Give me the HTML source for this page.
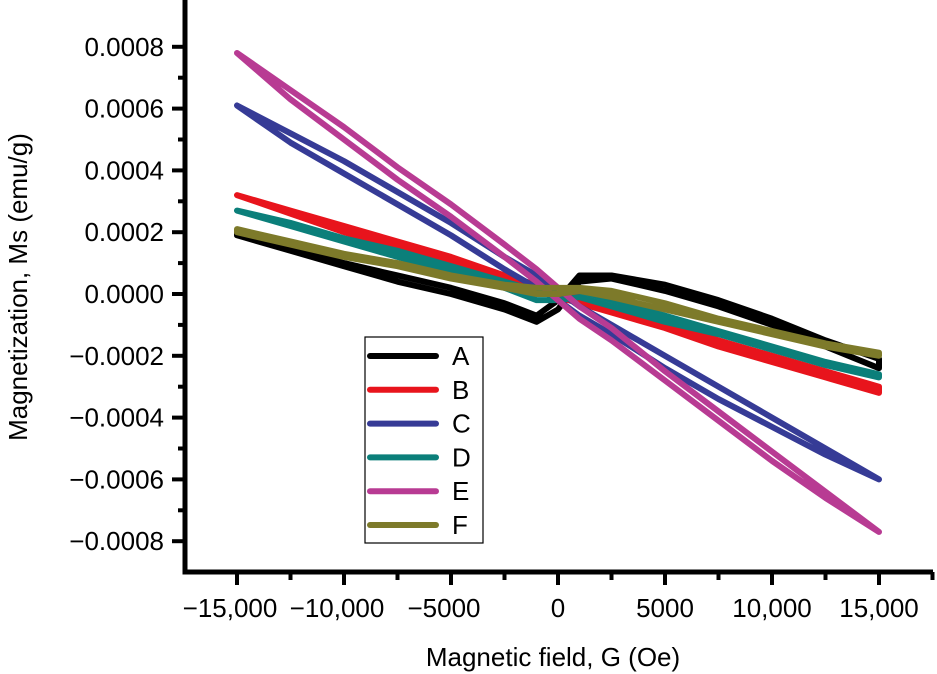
<!DOCTYPE html>
<html><head><meta charset="utf-8"><style>
body{margin:0;background:#fff;}
svg{display:block;font-family:"Liberation Sans",Arial,sans-serif;}
</style></head><body>
<svg id="chart" width="937" height="674"></svg>
<script>
const fields=[-15000,-12500,-10000,-7500,-5000,-2500,-1000,0,1000,2500,5000,7500,10000,12500,15000];
const seriesNames=["A","B","C","D","E","F"];
const seriesColors=["#000000","#e8141c","#363b96","#0b7f7a","#b83b93","#7d7a2a"];
const upA=[0.00020,0.00015,0.00010,0.00006,0.00002,-0.00003,-0.00007,-0.00002,0.00006,0.00006,0.00003,-0.00002,-0.00008,-0.00015,-0.00021];
const loA=[0.00019,0.00014,0.00009,0.00004,0.00000,-0.00005,-0.00009,-0.00005,0.00004,0.00005,0.00001,-0.00004,-0.00010,-0.00017,-0.00024];
const upB=[0.00032,0.00027,0.00022,0.00017,0.00012,0.00006,0.00003,0.00002,-0.00001,-0.00004,-0.00009,-0.00015,-0.00020,-0.00025,-0.00030];
const loB=[0.00032,0.00026,0.00020,0.00015,0.00010,0.00004,0.00001,-0.00001,-0.00003,-0.00006,-0.00011,-0.00017,-0.00022,-0.00027,-0.00032];
const upC=[0.00061,0.00052,0.00043,0.00033,0.00023,0.00012,0.00006,0.00001,-0.00004,-0.00010,-0.00020,-0.00030,-0.00040,-0.00050,-0.00060];
const loC=[0.00061,0.00049,0.00039,0.00029,0.00019,0.00008,0.00002,-0.00002,-0.00007,-0.00013,-0.00024,-0.00034,-0.00043,-0.00052,-0.00060];
const upD=[0.00027,0.00023,0.00018,0.00014,0.00009,0.00004,0.00001,0.00001,0.00001,-0.00002,-0.00007,-0.00012,-0.00017,-0.00022,-0.00026];
const loD=[0.00027,0.00022,0.00017,0.00012,0.00007,0.00002,-0.00002,-0.00002,-0.00001,-0.00004,-0.00009,-0.00013,-0.00018,-0.00023,-0.00027];
const upE=[0.00078,0.00066,0.00054,0.00041,0.00029,0.00016,0.00008,0.00002,-0.00004,-0.00011,-0.00025,-0.00038,-0.00051,-0.00064,-0.00077];
const loE=[0.00078,0.00063,0.00050,0.00037,0.00025,0.00012,0.00004,-0.00002,-0.00008,-0.00015,-0.00028,-0.00041,-0.00054,-0.00066,-0.00077];
const upF=[0.00021,0.00017,0.00013,0.00010,0.00006,0.00003,0.00002,0.00002,0.00002,0.00001,-0.00003,-0.00008,-0.00012,-0.00016,-0.00019];
const loF=[0.00020,0.00016,0.00012,0.00009,0.00005,0.00002,0.00000,0.00000,0.00001,-0.00001,-0.00005,-0.00009,-0.00013,-0.00017,-0.00020];
const xTicks=[-15000,-10000,-5000,0,5000,10000,15000];
const xTickLabels=["\u221215,000","\u221210,000","\u22125000","0","5000","10,000","15,000"];
const yTicks=[0.0008,0.0006,0.0004,0.0002,0,-0.0002,-0.0004,-0.0006,-0.0008];
const yTickLabels=["0.0008","0.0006","0.0004","0.0002","0.0000","\u22120.0002","\u22120.0004","\u22120.0006","\u22120.0008"];

const ups=[upA,upB,upC,upD,upE,upF], los=[loA,loB,loC,loD,loE,loF];
const X=v=>558+v*107/5000;
const Y=v=>294-v*61.8/0.0002;
const NS="http://www.w3.org/2000/svg";
const svg=document.getElementById('chart');
function mk(t,a,p){const e=document.createElementNS(NS,t);for(const k in a)e.setAttribute(k,a[k]);(p||svg).appendChild(e);return e;}

seriesNames.forEach((n,i)=>{
  let d="M"+fields.map((f,j)=>X(f)+","+Y(ups[i][j])).join(" L");
  d+=" L"+fields.slice().reverse().map((f,j)=>X(f)+","+Y(los[i][fields.length-1-j])).join(" L")+" Z";
  const p=mk('path',{d:d,fill:'none',stroke:seriesColors[i],'stroke-width':6,'stroke-linejoin':'round'});
  
  
});

const ax=mk('path',{d:"M185,0 L185,572 L933,572",fill:'none',stroke:'#000','stroke-width':5});


for(let v=-15000;v<=17500;v+=2500){
  const major=v%5000===0;
  const t=mk('line',{x1:X(v),x2:X(v),y1:572,y2:major?585:580,stroke:'#000','stroke-width':4});
  
  
}
xTicks.forEach((v,i)=>{
  const t=mk('text',{x:X(v)-(v<0?7:0),y:617,'text-anchor':'middle','font-size':26});
  t.textContent=xTickLabels[i];
  
  
});
for(let v=-0.0008;v<=0.00081;v+=0.0001){
  const major=Math.round(v*10000)%2===0;
  const t=mk('line',{x1:major?172:178,x2:185,y1:Y(v),y2:Y(v),stroke:'#000','stroke-width':4});
  
  
}
yTicks.forEach((v,i)=>{
  const t=mk('text',{x:164,y:Y(v)+9,'text-anchor':'end','font-size':26});
  t.textContent=yTickLabels[i];
  
  
});
const xt=mk('text',{x:553,y:666,'text-anchor':'middle','font-size':26});
xt.textContent="Magnetic field, G (Oe)";


const yt=mk('text',{x:0,y:0,'text-anchor':'middle','font-size':26,transform:'translate(27,287) rotate(-90)'});
yt.textContent="Magnetization, Ms (emu/g)";



const lg=mk('g',{});


mk('rect',{x:365,y:337,width:118,height:206,fill:'#fff',stroke:'#000','stroke-width':1.2},lg);
seriesNames.forEach((n,i)=>{
  const y=356+i*33.8;
  const g=mk('g',{},lg);
  
  
  mk('line',{x1:370,x2:436,y1:y,y2:y,stroke:seriesColors[i],'stroke-width':6,'stroke-linecap':'round'},g);
  const t=mk('text',{x:452,y:y+9,'font-size':26},g);
  t.textContent=n;
});
</script>
</body></html>
